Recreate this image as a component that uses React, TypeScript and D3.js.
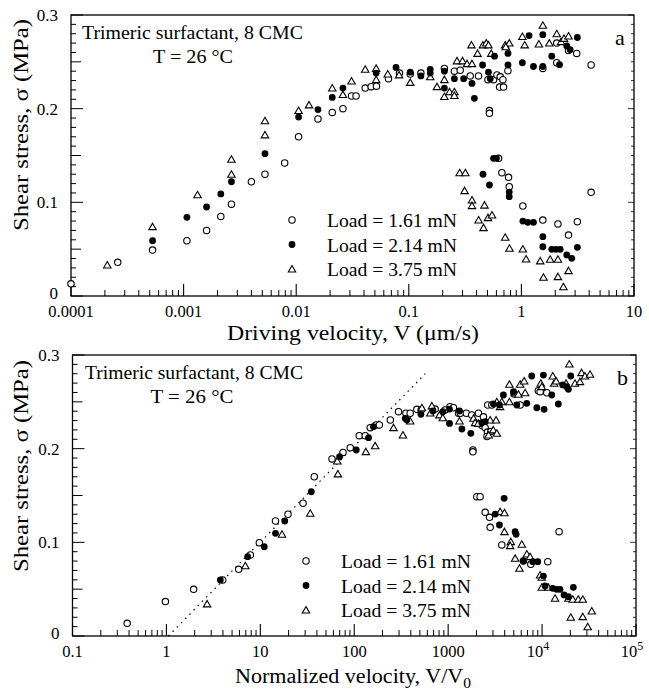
import React from "react";
import * as d3 from "d3";

type Pt = [number, number];

// ---------- Panel a data: driving velocity (µm/s), shear stress (MPa) ----------
const aOpen: Pt[] = [
  [0.0001,0.013],[0.00026,0.036],[0.00053,0.049],[0.00107,0.059],[0.0016,0.070],[0.00214,0.085],[0.00266,0.098],[0.004,0.122],[0.00528,0.130],[0.0079,0.142],[0.0105,0.170],[0.0156,0.189],[0.0209,0.196],[0.026,0.200],[0.031,0.2135],[0.034,0.2135],[0.041,0.222],[0.0463,0.2235],[0.0516,0.224],[0.066,0.232],[0.0826,0.238],[0.103,0.237],[0.128,0.238],[0.207,0.243],[0.254,0.240],[0.286,0.241],[0.351,0.235],[0.416,0.235],[0.505,0.231],[0.566,0.231],[0.607,0.236],[0.649,0.234],[0.685,0.231],[0.64,0.223],[0.694,0.223],[0.52,0.198],[0.52,0.195],[0.759,0.2405],[1.55,0.243],[2.06,0.270],[2.06,0.249],[2.62,0.262],[3.1,0.259],[4.16,0.2466],
  [0.627,0.147],[0.671,0.1316],[0.769,0.1267],[0.78,0.1167],[1.03,0.0961],[1.55,0.0811],[2.11,0.0769],[3.14,0.0793],[2.62,0.065],[4.16,0.1107],
];
const aFilled: Pt[] = [
  [0.00053,0.059],[0.00107,0.084],[0.0016,0.095],[0.00214,0.109],[0.00266,0.122],[0.00528,0.152],[0.0105,0.191],[0.0156,0.199],[0.0209,0.212],[0.026,0.222],[0.0513,0.238],[0.077,0.244],[0.103,0.239],[0.128,0.235],[0.155,0.242],[0.155,0.238],[0.207,0.240],[0.207,0.222],[0.254,0.232],[0.307,0.232],[0.364,0.227],[0.382,0.211],[0.452,0.2466],[0.51,0.239],[0.529,0.232],[0.577,0.256],[0.76,0.2466],[0.76,0.259],[1.02,0.249],[1.17,0.278],[1.28,0.245],[1.55,0.245],[1.55,0.279],[1.86,0.256],[2.18,0.247],[2.53,0.267],[2.71,0.263],[3.14,0.276],
  [0.566,0.147],[0.6,0.147],[0.456,0.130],[0.52,0.1185],[0.78,0.111],[0.78,0.106],[1.03,0.080],[1.14,0.0787],[1.28,0.0787],[1.55,0.0633],[1.55,0.0526],[1.86,0.0498],[2.03,0.0498],[2.21,0.0498],[2.53,0.0438],[2.8,0.0402],[3.14,0.052],
];
const aTri: Pt[] = [
  [0.00021,0.033],[0.00053,0.074],[0.00133,0.108],[0.00266,0.130],[0.00266,0.146],[0.00528,0.172],[0.00528,0.187],[0.0105,0.198],[0.013,0.204],[0.0209,0.222],[0.026,0.215],[0.031,0.2295],[0.041,0.242],[0.0513,0.243],[0.0513,0.231],[0.065,0.237],[0.082,0.236],[0.103,0.228],[0.155,0.234],[0.178,0.2235],[0.207,0.231],[0.207,0.213],[0.23,0.218],[0.254,0.218],[0.254,0.214],[0.268,0.251],[0.30,0.251],[0.329,0.248],[0.364,0.248],[0.36,0.268],[0.408,0.259],[0.455,0.268],[0.487,0.270],[0.51,0.268],[0.54,0.259],[0.718,0.268],[0.78,0.270],[0.727,0.266],[1.02,0.277],[1.07,0.268],[1.43,0.269],[1.55,0.289],[1.77,0.270],[2.06,0.280],[2.25,0.2715],[2.39,0.275],[2.62,0.2776],
  [0.283,0.1316],[0.318,0.1316],[0.313,0.1124],[0.364,0.1025],[0.364,0.0964],[0.47,0.097],[0.417,0.0811],[0.461,0.0729],[0.505,0.0836],[0.548,0.0865],[0.718,0.0627],[0.784,0.0509],[1.03,0.0502],[1.1,0.0395],[1.47,0.0374],[1.8,0.0392],[2.11,0.0392],[1.57,0.020],[2.11,0.0206],[2.62,0.027],[2.36,0.0099],
];

// ---------- Panel b data: normalized velocity V/V0, shear stress (MPa) ----------
const bOpen: Pt[] = [
  [0.382,0.0135],[0.975,0.0367],[1.95,0.0498],[3.97,0.0598],[5.88,0.0712],[7.83,0.0865],[9.76,0.0996],[14.5,0.1228],[19.7,0.130],[28.5,0.1417],[37.5,0.170],[58,0.189],[75.9,0.196],[90.6,0.201],[113,0.2139],[131,0.2139],[148,0.2224],[171,0.2253],[185,0.2253],[242,0.2306],[296,0.2395],[355,0.2378],[394,0.2378],[464,0.242],[516,0.2413],[727,0.2423],[929,0.2413],[1046,0.2448],[1138,0.2437],[1289,0.2378],[1349,0.2378],[1560,0.2378],[1782,0.236],[2100,0.2378],[2375,0.234],[2290,0.2247],[2475,0.2224],[2620,0.2177],[2590,0.213],[2845,0.2183],[1833,0.1986],[1833,0.1966],[2640,0.2466],[2917,0.2466],[5040,0.2583],[9120,0.2619],[9530,0.2608],[11220,0.2597],[5840,0.2466],
  [2018,0.1487],[2188,0.1487],[2477,0.132],[2754,0.1267],[2800,0.116],[15170,0.1114],[3725,0.0972],[6325,0.080],[7580,0.0765],[11500,0.0793],
];
const bFilled: Pt[] = [
  [3.75,0.0598],[7.33,0.0847],[11,0.0953],[14.5,0.1096],[18.2,0.1228],[34.9,0.154],[69.8,0.1914],[105,0.1986],[142,0.2117],[160,0.2235],[349,0.2324],[363,0.2306],[513,0.2367],[687,0.2402],[879,0.2395],[1033,0.2423],[1033,0.227],[1318,0.2402],[1400,0.221],[1743,0.2164],[2280,0.2277],[2477,0.2288],[3036,0.2477],[3873,0.2573],[3516,0.2466],[4955,0.2608],[5380,0.2466],[6871,0.2484],[8790,0.2437],[10500,0.242],[7760,0.2776],[10330,0.2786],[12680,0.2573],[14890,0.2477],[16590,0.268],[18290,0.2662],[19050,0.2634],[20200,0.2776],
  [3945,0.147],[3170,0.1302],[3516,0.1185],[5164,0.1114],[5290,0.1086],[6325,0.080],[7960,0.0793],[8990,0.0793],[10330,0.064],[10770,0.0534],[12970,0.0509],[14310,0.0498],[15520,0.0498],[17140,0.0438],[19050,0.042],[21520,0.052],
];
const bTri: Pt[] = [
  [2.71,0.0342],[6.92,0.075],[17,0.1086],[34,0.131],[67,0.173],[66,0.1868],[133,0.1968],[167,0.203],[262,0.2224],[330,0.2146],[394,0.2295],[525,0.2437],[645,0.238],[671,0.2456],[808,0.236],[877,0.233],[1318,0.2295],[1862,0.2324],[1936,0.2277],[2090,0.227],[2800,0.2306],[3236,0.2306],[2690,0.2146],[3020,0.220],[3296,0.2164],[3296,0.250],[3725,0.250],[4487,0.250],[3573,0.2448],[4487,0.2687],[5840,0.2687],[6440,0.2722],[5160,0.2597],[5600,0.258],[6600,0.2597],[9690,0.2698],[9930,0.2662],[13000,0.2776],[13430,0.2698],[14100,0.2722],[18000,0.2698],[19500,0.2904],[22400,0.2698],[25300,0.2715],[26300,0.2811],[28600,0.2776],[32400,0.2794],
  [3573,0.1327],[3975,0.1316],[3975,0.1114],[4645,0.1007],[4571,0.0964],[6080,0.0979],[5164,0.0829],[5740,0.0723],[6871,0.0875],[7450,0.0847],[9530,0.0651],[9930,0.0627],[9930,0.052],[11660,0.052],[13740,0.0402],[19050,0.0402],[21220,0.0392],[24300,0.0392],[27100,0.0392],[20200,0.020],[27100,0.0206],[33800,0.0267],[30600,0.0099],
];

// dotted fit line in panel b
const fitX = [1.05, 570];
const fitY = [0, 0.28];

const yTicks = [0, 0.1, 0.2, 0.3];
const yTickLabels = ["0", "0.1", "0.2", "0.3"];
const aXTicks = [1e-4, 1e-3, 1e-2, 1e-1, 1, 10];
const aXTickLabels = ["0.0001", "0.001", "0.01", "0.1", "1", "10"];
const bXTicks = [0.1, 1, 10, 100, 1000, 1e4, 1e5];
const bXTickLabels = ["0.1", "1", "10", "100", "1000", "10^4", "10^5"];
const legendLabels = ["Load = 1.61 mN", "Load = 2.14 mN", "Load = 3.75 mN"];

const FONT = "'Liberation Serif', 'Times New Roman', serif";

const triPath = d3.symbol().type(d3.symbolTriangle).size(24)() as string;

function Marker({ kind, x, y }: { kind: number; x: number; y: number }) {
  if (kind === 0) return <circle cx={x} cy={y} r={3.2} fill="white" stroke="black" strokeWidth={1.1} />;
  if (kind === 1) return <circle cx={x} cy={y} r={3.4} fill="black" />;
  return <path d={triPath} transform={`translate(${x},${y + 0.8})`} fill="white" stroke="black" strokeWidth={1.1} />;
}

interface PanelProps {
  x0: number; x1: number; y0: number; y1: number;
  domain: [number, number];
  xTicks: number[]; xTickLabels: string[];
  series: Pt[][];
  letter: string;
  xTitle: React.ReactNode;
  xTitleLen: number;
  xTitleOffset: number;
  legendX: number; legendY: number;
  yTitleCenter: number;
  noteX: number; noteLen: number; tempCx: number; tempLen: number;
  fit?: boolean;
}

function Panel(p: PanelProps) {
  const x = d3.scaleLog().domain(p.domain).range([p.x0, p.x1]);
  const y = d3.scaleLinear().domain([0, 0.3]).range([p.y1, p.y0]);
  const minor: number[] = [];
  const lo = Math.round(Math.log10(p.domain[0]));
  const hi = Math.round(Math.log10(p.domain[1]));
  for (let e = lo; e < hi; e++) for (let m = 2; m <= 9; m++) minor.push(m * Math.pow(10, e));
  const yMinor = d3.range(0, 31).map((i) => i / 100);
  const line = d3.line<number>().x((_, i) => x(fitX[i])).y((v) => y(v));
  const order = [0, 2, 1];
  return (
    <g fontFamily={FONT} fill="black">
      {/* y ticks */}
      {yMinor.map((v, i) => {
        const len = i % 10 === 0 ? 12 : i % 5 === 0 ? 10 : 5;
        return (
          <g key={"ym" + i}>
            <line x1={p.x0} x2={p.x0 + len} y1={y(v)} y2={y(v)} stroke="black" strokeWidth={1} />
            <line x1={p.x1} x2={p.x1 - (i % 10 === 0 ? 6 : 3)} y1={y(v)} y2={y(v)} stroke="black" strokeWidth={0.8} />
          </g>
        );
      })}
      {/* x ticks */}
      {minor.map((v, i) => (
        <line key={"xm" + i} x1={x(v)} x2={x(v)} y1={p.y1} y2={p.y1 - 6} stroke="black" strokeWidth={1} />
      ))}
      {p.xTicks.map((v, i) => (
        <line key={"xM" + i} x1={x(v)} x2={x(v)} y1={p.y1} y2={p.y1 - 12} stroke="black" strokeWidth={1.1} />
      ))}
      <rect x={p.x0} y={p.y0} width={p.x1 - p.x0} height={p.y1 - p.y0} fill="none" stroke="black" strokeWidth={1.3} />
      {/* tick labels */}
      {yTicks.map((v, i) => (
        <text key={"yl" + i} x={p.x0 - 13} y={y(v) + (i === 0 ? 3 : 6)} textAnchor="end" fontSize={17}>{yTickLabels[i]}</text>
      ))}
      {p.xTicks.map((v, i) => {
        const lab = p.xTickLabels[i];
        if (lab.includes("^")) {
          const [b, e] = lab.split("^");
          return (
            <text key={"xl" + i} x={x(v) - 4} y={p.y1 + 21} textAnchor="middle" fontSize={16.5}>
              {b}<tspan dy={-7} fontSize={12}>{e}</tspan>
            </text>
          );
        }
        return <text key={"xl" + i} x={x(v)} y={p.y1 + 21} textAnchor="middle" fontSize={16.5}>{lab}</text>;
      })}
      {/* titles */}
      <text transform={`translate(28,${p.yTitleCenter}) rotate(-90)`} textAnchor="middle" fontSize={20}
        textLength={212} lengthAdjust="spacingAndGlyphs">
        Shear stress, σ (MPa)
      </text>
      <text x={353} y={p.y1 + p.xTitleOffset} textAnchor="middle" fontSize={20}
        textLength={p.xTitleLen} lengthAdjust="spacingAndGlyphs">{p.xTitle}</text>
      <text x={p.noteX} y={p.y0 + 24} fontSize={19} textLength={p.noteLen} lengthAdjust="spacingAndGlyphs">
        Trimeric surfactant, 8 CMC
      </text>
      <text x={p.tempCx} y={p.y0 + 48} textAnchor="middle" fontSize={19} textLength={p.tempLen} lengthAdjust="spacingAndGlyphs">
        T = 26 °C
      </text>
      <text x={p.x1 - 19} y={p.y0 + 30} fontSize={22}>{p.letter}</text>
      {/* fit line */}
      {p.fit && (
        <path d={line(fitY) as string} fill="none" stroke="black" strokeWidth={1.2} strokeDasharray="1.5,4.5" />
      )}
      {/* data */}
      {order.map((k) => (
        <g key={"s" + k}>
          {p.series[k].map((d, i) => (
            <Marker key={i} kind={k} x={x(d[0])} y={y(d[1])} />
          ))}
        </g>
      ))}
      {/* legend */}
      {legendLabels.map((t, i) => (
        <g key={"lg" + i}>
          <Marker kind={i} x={p.legendX} y={p.legendY + i * 24.5} />
          <text x={p.legendX + 35} y={p.legendY + i * 24.5 + 7} fontSize={19}
            textLength={130} lengthAdjust="spacingAndGlyphs">{t}</text>
        </g>
      ))}
    </g>
  );
}

export default function App() {
  return (
    <svg width={649} height={696} style={{ position: "absolute", left: 0, top: 0, background: "white" }}>
      <rect width={649} height={696} fill="white" />
      <Panel
        x0={71} x1={634} y0={15} y1={296}
        domain={[1e-4, 10]}
        xTicks={aXTicks} xTickLabels={aXTickLabels}
        series={[aOpen, aFilled, aTri]}
        letter="a"
        xTitle={<>Driving velocity, V (μm/s)</>}
        xTitleLen={252}
        xTitleOffset={44}
        legendX={292} legendY={220}
        yTitleCenter={125}
        noteX={82} noteLen={221} tempCx={193} tempLen={80}
      />
      <Panel
        x0={72.5} x1={636} y0={355} y1={636}
        domain={[0.1, 1e5]}
        xTicks={bXTicks} xTickLabels={bXTickLabels}
        series={[bOpen, bFilled, bTri]}
        letter="b"
        xTitle={<>Normalized velocity, V/V<tspan fontSize={14} dy={5}>0</tspan></>}
        xTitleLen={236}
        xTitleOffset={47}
        legendX={306} legendY={561}
        yTitleCenter={466}
        noteX={85} noteLen={218} tempCx={192} tempLen={83}
        fit
      />
    </svg>
  );
}
